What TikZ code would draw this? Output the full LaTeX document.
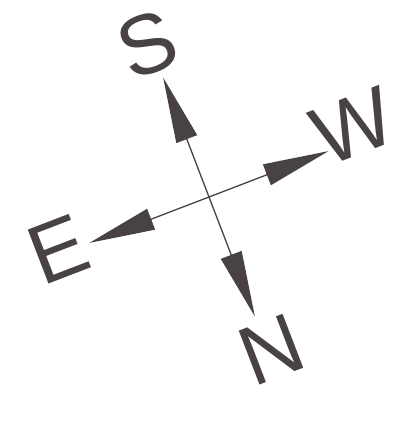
\documentclass[tikz,border=0pt]{standalone}
\usepackage{fontspec}
\setmainfont{Liberation Sans}
\usetikzlibrary{arrows.meta}
\definecolor{ink}{RGB}{72,66,66}
\tikzset{
  axis/.style={draw=ink, line width=1.3pt,
    {Triangle[length=66pt,width=22pt,fill=ink]}-{Triangle[length=66pt,width=22pt,fill=ink]}},
  letter/.style={text=ink, inner sep=0pt, font=\fontsize{84}{84}\selectfont}
}
\begin{document}
\begin{tikzpicture}[x=1pt,y=1pt]
\useasboundingbox (0,0) rectangle (415,426);
\begin{scope}[shift={(209,229)}, rotate=21, transform shape]
  \coordinate (c) at (0,0);
  \coordinate (tS) at (0,128);
  \coordinate (tN) at (0,-128);
  \coordinate (tW) at (128,0);
  \coordinate (tE) at (-128,0);
  \draw[axis] (tN) -- (tS);
  \draw[axis] (tE) -- (tW);
  \node[letter] (S) at (-3,164) {S};
  \node[letter] (W) at (160,14) {W};
  \node[letter] (E) at (-160,5) {E};
  \node[letter] (N) at (4,-165) {N};
\end{scope}
\end{tikzpicture}
\end{document}
